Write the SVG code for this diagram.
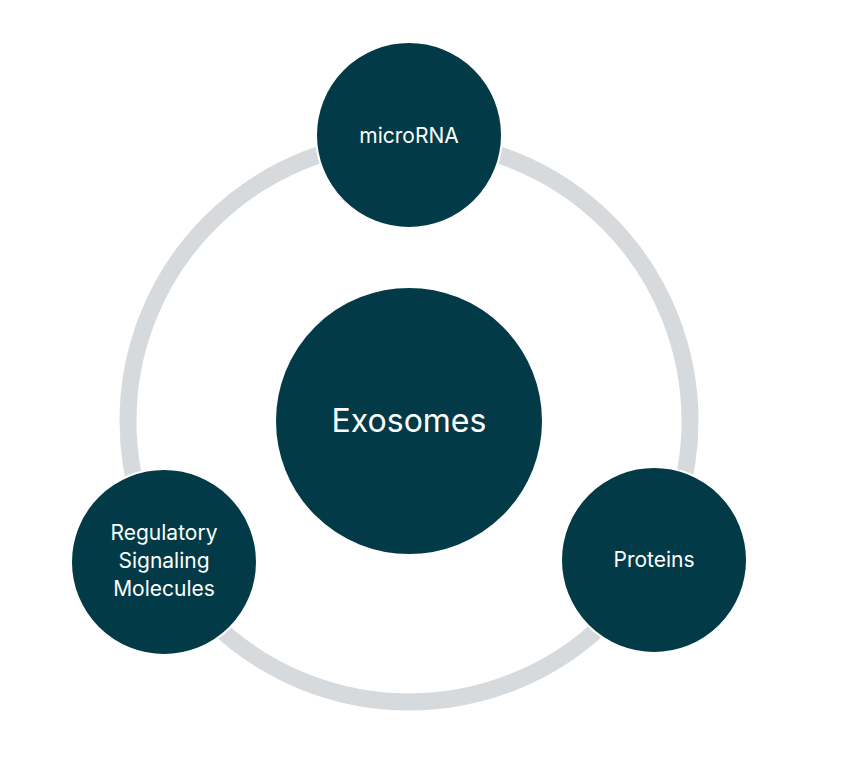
<svg xmlns="http://www.w3.org/2000/svg" width="854" height="778" viewBox="0 0 854 778">
<style>
.n{fill:#023b47;stroke:#fff;stroke-width:2}
.t{fill:#fff;font-family:Inter,"Liberation Sans",sans-serif;text-anchor:middle}
</style>
<rect width="854" height="778" fill="#fff"/>
<g id="connectors"><circle cx="409" cy="421" r="281" fill="none" stroke="#d6dadd" stroke-width="17"/></g>
<g id="exosomes"><circle class="n" cx="409" cy="421" r="134"/><text class="t" x="409" y="432" font-size="32">Exosomes</text></g>
<g id="microrna"><circle class="n" cx="409" cy="135" r="93"/><text class="t" x="409" y="143" font-size="21">microRNA</text></g>
<g id="proteins"><circle class="n" cx="654" cy="560" r="93"/><text class="t" x="654" y="567" font-size="21">Proteins</text></g>
<g id="regulatory"><circle class="n" cx="164" cy="562" r="93"/><text class="t" font-size="21"><tspan x="164" y="540">Regulatory</tspan><tspan x="164" y="568">Signaling</tspan><tspan x="164" y="596">Molecules</tspan></text></g>
</svg>
